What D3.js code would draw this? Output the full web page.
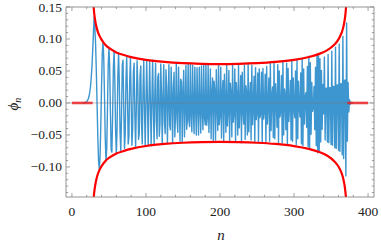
<!DOCTYPE html>
<html>
<head>
<meta charset="utf-8">
<script src="https://cdn.jsdelivr.net/npm/d3@7"></script>
<style>
  body { margin: 0; background: #fff; }
</style>
</head>
<body>
<svg></svg>
<script>
const width = 381;
const height = 246;

// phi_n in units of 0.001, starting at n = nFirst
const nFirst = 15;
const phi = [
  0, 0, 0, 1, 1, 2, 4, 6, 10, 16, 25, 38, 56, 80, 108, 135,
  118, 91, 48, -3, -54, -91, -104, -84, -36, 26,
  77, 96, 70, 10, -55, -90, -72, -11, 57, 87,
  57, -14, -74, -77, -17, 56, 81, 34, -43, -80,
  -39, 41, 78, 34, -46, -76, -19, 59, 67, -5,
  -71, -48, 36, 73, 13, -64, -53, 32, 71, 8,
  -66, -41, 47, 62, -19, -70, -8, 66, 30, -57,
  -47, 43, 58, -30, -64, 18, 67, -8, -68, 1,
  67, 3, -67, -4, 67, 3, -67, 1, 67, -8,
  -65, 17, 62, -28, -56, 40, 46, -52, -32, 61,
  13, -65, 9, 60, -32, -48, 52, 25, -62, 4,
  60, -34, -42, 56, 12, -63, 24, 48, -53, -15,
  63, -26, -46, 56, 6, -60, 37, 33, -61, 13,
  51, -53, -8, 59, -41, -25, 62, -28, -37, 61,
  -17, -45, 59, -10, -48, 56, -6, -50, 55, -5,
  -50, 56, -8, -47, 58, -14, -42, 60, -23, -34,
  61, -35, -22, 59, -46, -6, 53, -56, 14, 39,
  -61, 34, 19, -58, 52, -7, -43, 61, -34, -18,
  56, -55, 15, 35, -61, 45, 1, -46, 61, -36,
  -11, 51, -59, 31, 16, -53, 59, -30, -16, 53,
  -59, 32, 12, -50, 60, -39, -3, 43, -62, 48,
  -10, -33, 59, -57, 27, 15, -50, 62, -45, 8,
  32, -58, 59, -34, -6, 42, -61, 55, -26, -13,
  47, -62, 53, -23, -15, 48, -63, 54, -25, -12,
  45, -62, 57, -33, -4, 39, -60, 62, -43, 11,
  25, -54, 65, -56, 30, 5, -38, 60, -64, 50,
  -22, -12, 43, -62, 65, -50, 22, 11, -42, 62,
  -66, 54, -29, -4, 35, -58, 67, -60, 39, -9,
  -23, 50, -65, 67, -56, 34, -6, -22, 47, -64,
  70, -67, 53, -33, 9, 16, -38, 57, -68, 73,
  -71, 63, -49, 32, -13, -7, 26, -42, 56, -67,
  74, -78, 77, -75, 69, -61, 51, -41, 29, -17,
  72, -58, 23, 23, -61, 76, -62, 24, 24, -65,
  81, -66, 26, 26, -70, 87, -71, 28, 28, -74,
  92, -76, 30, 30, -81, 104, -87, 35, 36, -114,
  125, -60, 32, -14, 5, -2, 1, 0, 0, 0
];

// red envelope
const envN = [28, 28.5, 29, 29.5, 30, 31, 32, 34, 36, 40, 45, 50, 60, 70, 80, 100,
  125, 150, 175, 200, 225, 250, 275, 300, 320, 335, 345, 355, 360, 364, 366, 368,
  369, 370, 371, 371.6];
const envUp = [0.186, 0.168, 0.156, 0.148, 0.141, 0.132, 0.125, 0.115, 0.108, 0.099,
  0.091, 0.086, 0.079, 0.075, 0.0717, 0.0673, 0.0641, 0.0622, 0.0612, 0.0608, 0.0612,
  0.0622, 0.0641, 0.0674, 0.0718, 0.0771, 0.0826, 0.0918, 0.0994, 0.109, 0.116, 0.127,
  0.135, 0.146, 0.165, 0.186];
const envLow = envUp.map(v => -v);

// flat zero pieces outside the turning points
const zeroLeft = [0, 28];
const zeroRight = [372, 400];

const xTicks = [0, 100, 200, 300, 400];
const yTicks = [-0.10, -0.05, 0.00, 0.05, 0.10, 0.15];

const mLeft = 66, mRight = 374, mTop = 7, mBottom = 197;
const serif = '"Liberation Serif", "Times New Roman", "DejaVu Serif", serif';

const svg = d3.select('svg')
  .attr('width', width)
  .attr('height', height);

const x = d3.scaleLinear().domain([-8, 408]).range([mLeft, mRight]);
const y = d3.scaleLinear().domain([-0.147, 0.15]).range([mBottom, mTop]);

svg.append('clipPath').attr('id', 'clip')
  .append('rect')
  .attr('x', mLeft).attr('y', mTop)
  .attr('width', mRight - mLeft).attr('height', mBottom - mTop);

const plot = svg.append('g').attr('clip-path', 'url(#clip)');

const phiLine = d3.line()
  .x((d, i) => x(nFirst + i))
  .y(d => y(d / 1000));

plot.append('path')
  .datum(phi)
  .attr('d', phiLine)
  .attr('fill', 'none')
  .attr('stroke', 'rgb(62,150,208)')
  .attr('stroke-width', 1.4)
  .attr('stroke-linejoin', 'round');

// zero axis
plot.append('line')
  .attr('x1', mLeft).attr('x2', mRight)
  .attr('y1', y(0)).attr('y2', y(0))
  .attr('stroke', '#777')
  .attr('stroke-opacity', 0.8)
  .attr('stroke-width', 0.6);

const envLine = d3.line()
  .curve(d3.curveCatmullRom)
  .x((d, i) => x(envN[i]))
  .y(d => y(d));

[envUp, envLow].forEach(arr => {
  plot.append('path')
    .datum(arr)
    .attr('d', envLine)
    .attr('fill', 'none')
    .attr('stroke', '#ff0000')
    .attr('stroke-width', 2.2);
});

[zeroLeft, zeroRight].forEach(seg => {
  plot.append('line')
    .attr('x1', x(seg[0])).attr('x2', x(seg[1]))
    .attr('y1', y(0)).attr('y2', y(0))
    .attr('stroke', '#ee1c1c')
    .attr('stroke-opacity', 0.8)
    .attr('stroke-width', 2.6);
});

// frame
svg.append('rect')
  .attr('x', mLeft).attr('y', mTop)
  .attr('width', mRight - mLeft).attr('height', mBottom - mTop)
  .attr('fill', 'none')
  .attr('stroke', '#888')
  .attr('stroke-width', 0.9);

// ticks on all four sides, pointing inward
const xMinor = d3.range(0, 401, 20).filter(v => !xTicks.includes(v));
const yMinor = d3.range(-14, 15, 1).map(v => v / 100).filter(v => Math.round(v * 100) % 5 !== 0);

const tk = svg.append('g').attr('stroke', '#888').attr('stroke-width', 0.8);
xTicks.forEach(v => {
  tk.append('line').attr('x1', x(v)).attr('x2', x(v)).attr('y1', mBottom).attr('y2', mBottom - 4);
  tk.append('line').attr('x1', x(v)).attr('x2', x(v)).attr('y1', mTop).attr('y2', mTop + 4);
});
xMinor.forEach(v => {
  tk.append('line').attr('x1', x(v)).attr('x2', x(v)).attr('y1', mBottom).attr('y2', mBottom - 2.2);
  tk.append('line').attr('x1', x(v)).attr('x2', x(v)).attr('y1', mTop).attr('y2', mTop + 2.2);
});
yTicks.forEach(v => {
  tk.append('line').attr('x1', mLeft).attr('x2', mLeft + 4).attr('y1', y(v)).attr('y2', y(v));
  tk.append('line').attr('x1', mRight).attr('x2', mRight - 4).attr('y1', y(v)).attr('y2', y(v));
});
yMinor.forEach(v => {
  tk.append('line').attr('x1', mLeft).attr('x2', mLeft + 2.2).attr('y1', y(v)).attr('y2', y(v));
  tk.append('line').attr('x1', mRight).attr('x2', mRight - 2.2).attr('y1', y(v)).attr('y2', y(v));
});

svg.append('g').selectAll('text')
  .data(xTicks)
  .enter()
  .append('text')
  .attr('x', d => x(d))
  .attr('y', 216)
  .attr('text-anchor', 'middle')
  .attr('font-family', serif)
  .attr('font-size', 13.5)
  .attr('fill', '#222')
  .text(d => d);

svg.append('g').selectAll('text')
  .data(yTicks)
  .enter()
  .append('text')
  .attr('x', 62)
  .attr('y', d => y(d) + 4.5)
  .attr('text-anchor', 'end')
  .attr('font-family', serif)
  .attr('font-size', 13.5)
  .attr('fill', '#222')
  .text(d => d3.format('.2f')(d).replace('-', '\u2212'));

svg.append('text')
  .attr('x', 221)
  .attr('y', 240)
  .attr('text-anchor', 'middle')
  .attr('font-family', serif)
  .attr('font-size', 15)
  .attr('font-style', 'italic')
  .attr('fill', '#222')
  .text('n');

const yl = svg.append('text')
  .attr('transform', 'translate(18,104) rotate(-90)')
  .attr('text-anchor', 'middle')
  .attr('font-family', serif)
  .attr('font-size', 15)
  .attr('font-style', 'italic')
  .attr('fill', '#222');
yl.append('tspan').text('\u03d5');
yl.append('tspan').attr('font-size', 10).attr('dy', 3).text('n');
</script>
</body>
</html>
